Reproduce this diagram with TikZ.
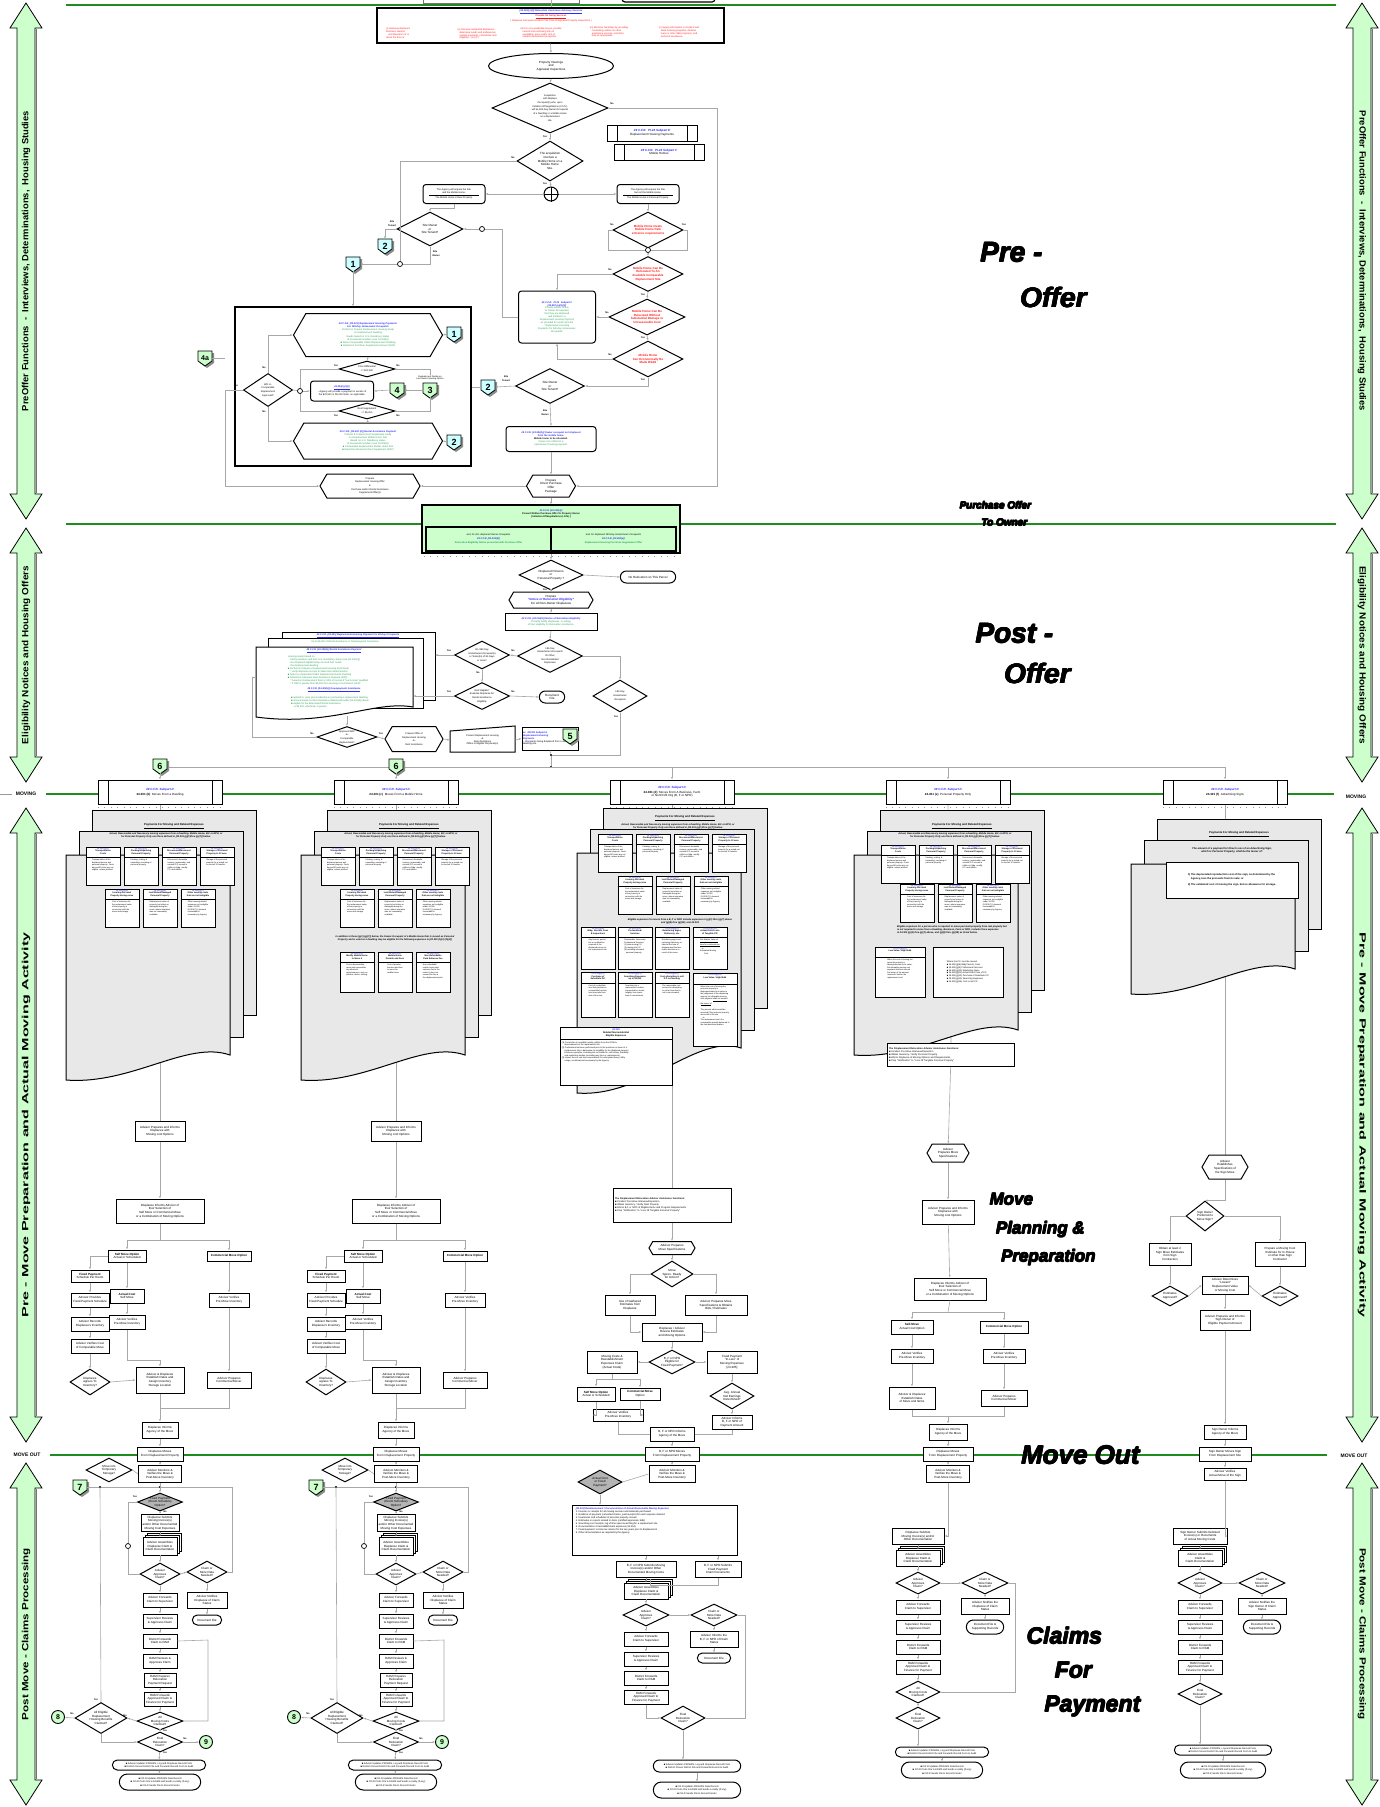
\documentclass[tikz,border=0pt]{standalone}
\usepackage{fontspec}
\setmainfont{Liberation Sans}
\usetikzlibrary{shapes.geometric,shapes.misc,shapes.symbols,arrows.meta,calc}
\pgfdeclarelayer{bgz}\pgfdeclarelayer{bgl}\pgfsetlayers{bgz,bgl,main}
\definecolor{lgreen}{HTML}{CCFFCC}
\definecolor{lcyan}{HTML}{CCFFFF}
\definecolor{lineg}{HTML}{1E8C1E}
\definecolor{cfr}{HTML}{2B2BFF}
\definecolor{tgr}{HTML}{2EA055}
\definecolor{tred}{HTML}{FF1A1A}
\definecolor{docg}{HTML}{E8E8E8}
\definecolor{cgray}{HTML}{A8A8A8}
\definecolor{dgray}{HTML}{B4B4B4}
\newcommand\fA{\fontsize{2.4}{2.9}\selectfont}
\newcommand\fB{\fontsize{3}{3.6}\selectfont}
\newcommand\fC{\fontsize{3.6}{4.3}\selectfont}
\newcommand\cfx[1]{\textcolor{cfr}{\bfseries\itshape #1}}
\newcommand\tgx[1]{\textcolor{tgr}{#1}}
\newcommand\trx[1]{\textcolor{tred}{\bfseries #1}}
\tikzset{
 base/.style={font=\fB, align=center, inner sep=0.6pt},
 box/.style={base, draw, line width=1pt, fill=white, rectangle},
 rbox/.style={box, rounded corners=3pt},
 dia/.style={draw, diamond, line width=1pt, fill=white, inner sep=0pt},
 hexa/.style={draw, signal, signal to=west and east, signal pointer angle=120, line width=1pt, fill=white, inner sep=0pt},
 conn/.style={draw=cgray, line width=0.6pt},
 ca/.style={conn, -{Latex[length=2.5pt,width=2pt]}},
 lbl/.style={font=\fontsize{2.4}{2.8}\selectfont\bfseries, inner sep=0.3pt},
 jn/.style={circle, draw, fill=white, inner sep=0pt, minimum size=5pt, line width=0.7pt},
 dt/.style={circle, fill=black, inner sep=0pt, minimum size=2.4pt},
 ppbox/.style={box, path picture={
   \draw[line width=0.9pt] ([xshift=10pt]path picture bounding box.north west) -- ([xshift=10pt]path picture bounding box.south west);
   \draw[line width=0.9pt] ([xshift=-10pt]path picture bounding box.north east) -- ([xshift=-10pt]path picture bounding box.south east);}},
 gl/.style={lineg, line width=1.8pt},
}
\newcommand\heavy[4]{\foreach \hx/\hy [count=\hi] in {0/0,0.8/0,0/0.8,0.8/0.8,0.4/0.4} {\node[inner sep=0pt, font=#3] (#1\hi) at ($(#2)+(\hx,\hy)$) {#4};}}
\newcommand\nbox[6][]{\node[box,minimum width=#4pt,minimum height=#5pt,#1] (#2) at (#3) {#6};}
\newcommand\nrbox[6][]{\node[rbox,minimum width=#4pt,minimum height=#5pt,#1] (#2) at (#3) {#6};}
\newcommand\ndia[6][]{\node[dia,minimum width=#4pt,minimum height=#5pt,#1] (#2) at (#3) {}; \node[base] (#2t) at (#3) {#6};}
\newcommand\nhex[6][]{\node[hexa,minimum width=#4pt,minimum height=#5pt,#1] (#2) at (#3) {}; \node[base] (#2t) at (#3) {#6};}
\newcommand\nell[6][]{\node[rounded rectangle,draw,line width=1pt,fill=white,minimum width=#4pt,minimum height=#5pt,#1] (#2) at (#3) {}; \node[base] (#2t) at (#3) {#6};}
\newcommand\smdoc[5]{%
 \node[draw,fill=white,line width=0.8pt,minimum width=#3pt,minimum height=#4pt] (#1b) at ($(#2)+(4,-4)$) {};
 \node[draw,fill=white,line width=0.8pt,minimum width=#3pt,minimum height=#4pt] (#1m) at ($(#2)+(2,-2)$) {};
 \node[base,draw,fill=white,line width=0.8pt,minimum width=#3pt,minimum height=#4pt] (#1) at (#2) {#5};}
\newcommand\bdg[4]{%
 \fill[black!45] ($(#2)+(-5,-5)$) -- ($(#2)+(9,-5)$) -- ($(#2)+(9,5)$) -- ($(#2)+(2,10)$) -- ($(#2)+(-5,5)$) -- cycle;
 \draw[fill=#3, line width=0.8pt] ($(#2)+(-7,-7)$) -- ($(#2)+(7,-7)$) -- ($(#2)+(7,3)$) -- ($(#2)+(0,8)$) -- ($(#2)+(-7,3)$) -- cycle;
 \node[inner sep=0pt, minimum size=14pt, font=\fontsize{9}{9}\selectfont\bfseries] (#1) at (#2) {#4};}
\newcommand\cbdg[3]{\node[circle, draw, line width=0.9pt, fill=lgreen, minimum size=13pt, inner sep=0pt, font=\fontsize{7}{7}\selectfont\bfseries] (#1) at (#2) {#3};}
\newcommand\sarrow[7]{%
 \draw[fill=lgreen, line width=0.8pt] (#1,#2) -- ({#1+16},{#2+25}) -- ({#1+9},{#2+25}) -- ({#1+9},{#3-25}) -- ({#1+16},{#3-25}) -- (#1,#3) -- ({#1-16},{#3-25}) -- ({#1-9},{#3-25}) -- ({#1-9},{#2+25}) -- ({#1-16},{#2+25}) -- cycle;
 \draw[black!55, line width=1.4pt] ({#1+10.2},{#2+26}) -- ({#1+10.2},{#3-26});
 \node[rotate=#5, inner sep=0] (#6) at (#1,{(#2+#3)/2}) {\resizebox{#7pt}{6.5pt}{\bfseries #4}};}
\newcommand\mdoc[4]{%
\begin{scope}[shift={(#1,#2)}]
 \draw[fill=docg, line width=1pt] (0,0) rectangle (164,#3);
 \draw[fill=docg, line width=1pt] (-13,21) rectangle (151,{#3+22});
 \draw[fill=docg, line width=1pt] (-26,45) -- (138,45) -- (138,{#3+40}) .. controls (95,{#3+25}) and (40,{#3+45+#4}) .. (-26,{#3+40+#4}) -- cycle;
\end{scope}}
\newcommand\ebox[5]{%
 \node[draw, fill=white, line width=0.8pt, minimum width=#2pt, minimum height=#3pt, inner sep=0pt] (eb) at (#1) {};
 \draw[line width=0.6pt] ($(eb.north west)+(0,11)$) -- ($(eb.north east)+(0,11)$);
 \node[font=\fontsize{2.2}{2.6}\selectfont, align=center, anchor=north, inner sep=0.6pt] (ebh) at (eb.north) {#4};
 \node[font=\fontsize{2}{2.5}\selectfont, align=left, anchor=north, inner sep=0.5pt] (ebb) at ($(eb.north)+(0,12)$) {#5};}
\newcommand\yn[2]{\node[lbl] (yn) at (#1) {#2};}
\newcommand\eh[2]{\textcolor{cfr}{#1}\\\textbf{#2}}
% column flow used for dwelling and mobile home columns
\newcommand\colflow{%
 \nbox{f1}{160,1131}{50}{20}{Advisor Prepares and Informs\\Displacee with\\Moving cost Options}
 \nbox{f2}{160,1211}{88}{24}{Displacee Informs Advisor of\\their Selection of\\Self Move or Commercial Move\\or a Combination of Moving Options}
 \nbox{f3}{127,1256}{38}{12}{\textbf{Self Move Option}\\Actual or Scheduled}
 \nbox{f4}{229,1256}{44}{10}{\textbf{Commercial Move Option}}
 \nbox{f5}{90,1276}{38}{12}{\textbf{Fixed Payment}\\Schedule Per Room}
 \nbox{f6}{127,1296}{34}{14}{\textbf{Actual Cost}\\Self Move}
 \nbox{f7}{90,1300}{38}{14}{Advisor Provides\\Fixed Payment Schedule}
 \nbox{f8}{127,1322}{36}{14}{Advisor Verifies\\Pre-Move Inventory}
 \nbox{f9}{229,1300}{40}{14}{Advisor Verifies\\Pre-Move Inventory}
 \nbox{f10}{90,1324}{38}{14}{Advisor Records\\Displacee's Inventory}
 \nbox{f11}{90,1346}{38}{14}{Advisor Verifies Cost\\of Comparable Move}
 \ndia{f12}{90,1382}{40}{26}{Displacee\\agrees To\\Inventory?}
 \nbox{f13}{160,1380}{48}{26}{Advisor \& Displacee\\Establish Dates and\\Assign Inventory\\Storage Location}
 \nbox{f14}{229,1380}{44}{16}{Advisor Prepares\\Commercial Mover}
 \nbox{f15}{160,1430}{36}{16}{Displacee Informs\\Agency of the Move}
 \nbox{f16}{160,1454}{46}{14}{Displacee Moves\\From Displacement Property}
 \nbox{f17}{160,1474}{43}{17}{Advisor Monitors \&\\Verifies the Move \&\\Post-Move Inventory}
 \ndia{f18}{109,1470}{46}{24}{Move into\\Temporary\\Storage?}
 \bdg{b7}{80,1487}{lgreen}{7}
 \ndia[fill=dgray]{f19}{160,1502}{45}{18}{Fixed Payment\\(Room Schedule)\\Option?}
 \nbox{f20}{160,1523}{38}{17}{Displacee Submits\\Moving Invoice(s)\\and/or Other Documented\\Moving Cost Expenses}
 \smdoc{f21}{160,1546}{34}{18}{Advisor Assembles\\Displacee Claim \&\\Claim Documentation}
 \node[jn] (j5) at (128,1546) {};
 \ndia{f22}{160,1574}{40}{22}{Advisor\\Approves\\Claim?}
 \ndia{f23}{207,1572}{40}{22}{Claim or\\More Data\\Needed?}
 \nbox{f24}{160,1600}{34}{14}{Advisor Forwards\\Claim to Supervisor}
 \nbox{f25}{207,1600}{40}{16}{Advisor Notifies\\Displacee of Claim\\Status}
 \nell{f26}{207,1620}{36}{10}{Document File}
 \nbox{f27}{160,1621}{34}{14}{Supervisor Reviews\\\& Approves Claim}
 \nbox{f28}{160,1641}{34}{14}{District Forwards\\Claim to RAM}
 \nbox{f29}{160,1661}{34}{14}{RAM Reviews \&\\Approves Claim}
 \nbox{f30}{160,1680}{32}{14}{RAM Prepares\\Relocation\\Payment Request}
 \nbox{f31}{160,1699}{32}{14}{RAM Forwards\\Approved Claim to\\Finance for Payment}
 \ndia{f32}{101,1718}{52}{31}{All Eligible\\Replacement\\Housing Benefits\\Claimed?}
 \ndia{f33}{160,1721}{46}{18}{All\\Moving Costs\\Claimed?}
 \cbdg{b8}{58,1717}{8}
 \ndia{f34}{160,1742}{45}{20}{Final\\Relocation\\Claim?}
 \cbdg{b9}{206,1742}{9}
 \nell{f35}{159,1765}{100}{10}{\fA ■ Advisor Updates PROARS, Log and Displacee Record Form\\\fA ■ District Closes District File and Forwards Record Form to Audit}
 \nell{f36}{160,1782}{88}{16}{\fA ■ CO-R Updates PROARS Data Record\\\fA ■ CO-R Posts File to EDMS and Sends Locality (if any)\\\fA ■ CO-R Sends File to Record Center}
 \draw[ca] (f1) -- (f2);
 \draw[conn] (f2.south) -- (160,1240); \draw[conn] (127,1240) -- (229,1240);
 \draw[ca] (127,1240) -- (f3.north); \draw[ca] (229,1240) -- (f4.north);
 \draw[ca] (f3.west) -| (f5.north); \draw[ca] (f3) -- (f6); \draw[ca] (f6) -- (f8);
 \draw[ca] (f5) -- (f7); \draw[ca] (f7) -- (f10); \draw[ca] (f10) -- (f11); \draw[ca] (f11) -- (f12);
 \draw[ca] (f12.east) -- (f13.west); \draw[ca] (f8.south) |- ($(f13.north)+(0,-6)$) -- (f13.north);
 \draw[ca] (f4) -- (f9); \draw[ca] (f9) -- (f14);
 \draw[conn] (f14.south) |- (160,1408); \draw[ca] (f13) -- (f15);
 \draw[ca] (f15) -- (f16); \draw[ca] (f16) -- (f17); \draw[conn] (f18.east) -- (f17.west);
 \draw[conn] (b7.east) -- (232,1487); \node[dt] (d7a) at (100,1487) {}; \node[dt] (d7b) at (160,1487) {};
 \draw[ca] (f17.south) -- (f19.north);
 \draw[conn] (f19.west) -| (j5); \draw[ca] (f19) -- (f20); \draw[ca] (f20) -- (f21);
 \draw[conn] (j5) -- (128,1574) -- (f22.west); \draw[ca] (f21) -- (f22);
 \draw[ca] (f22.east) -- (f23.west); \draw[conn] (232,1487) -- (232,1572) -- (f23.east);
 \draw[ca] (f23) -- (f25); \draw[ca] (f25) -- (f26);
 \draw[ca] (f22) -- (f24); \draw[ca] (f24) -- (f27); \draw[ca] (f27) -- (f28); \draw[ca] (f28) -- (f29); \draw[ca] (f29) -- (f30); \draw[ca] (f30) -- (f31); \draw[ca] (f31) -- (f33);
 \draw[conn] (100,1487) -- (f32.north); \draw[ca] (f33.west) -- (f32.east); \draw[ca] (f32.west) -- (b8);
 \draw[conn] (f33.east) -- (208,1721) -- (208,1640) -- (f28.east);
 \draw[ca] (f32.south) |- (f34.west); \draw[ca] (f33) -- (f34); \draw[ca] (f34.east) -- (b9); \draw[ca] (f34) -- (f35); \draw[ca] (f35) -- (f36);
 \yn{135,1497}{Yes} \yn{165,1512}{No} \yn{125,1716}{No} \yn{72,1714}{No} \yn{165,1731}{Yes} \yn{185,1739}{No} \yn{165,1753}{Yes} \yn{96,1700}{Yes}
}
\begin{document}
\begin{tikzpicture}[x=1pt,y=-1pt]
\useasboundingbox (0,0) rectangle (1380,1807);
\begin{pgfonlayer}{bgz}\fill[white] (0,0) rectangle (1380,1807);\end{pgfonlayer}
% ---------------- green section lines
\draw[gl] (66,5) -- (1336,5);
\draw[gl] (66,524) -- (1336,524);
\draw[gl] (46,794) -- (1334,794);
\draw[gl] (50,1455) -- (1327,1455);
\draw[black!40, line width=0.5pt] (0,794) -- (12,794);
\node[font=\fontsize{5}{5}\selectfont\bfseries, inner sep=0] (mvl) at (26,794) {MOVING};
\node[font=\fontsize{5}{5}\selectfont\bfseries, inner sep=0] (mvr) at (1356,797) {MOVING};
\node[font=\fontsize{5}{5}\selectfont\bfseries, inner sep=0] (mol) at (27,1455) {MOVE OUT};
\node[font=\fontsize{5}{5}\selectfont\bfseries, inner sep=0] (mor) at (1354,1456) {MOVE OUT};
% ---------------- side arrows
\sarrow{26}{3}{519}{PreOffer Functions\ \ -\ \ Interviews, Determinations,\ \ Housing Studies}{90}{sal1}{300}
\sarrow{26}{528}{782}{Eligibility Notices and Housing Offers}{90}{sal2}{178}
\sarrow{26}{808}{1442}{Pre - Move Preparation and Actual Moving Activity}{90}{sal3}{385}
\sarrow{26}{1463}{1805}{Post Move - Claims Processing}{90}{sal4}{172}
\sarrow{1362}{3}{519}{PreOffer Functions\ \ -\ \ Interviews, Determinations,\ \ Housing Studies}{-90}{sar1}{300}
\sarrow{1362}{528}{782}{Eligibility Notices and Housing Offers}{-90}{sar2}{178}
\sarrow{1362}{808}{1442}{Pre - Move Preparation and Actual Moving Activity}{-90}{sar3}{385}
\sarrow{1362}{1463}{1805}{Post Move - Claims Processing}{-90}{sar4}{172}
% ---------------- big labels (heavy)
\heavy{bl1}{1011,252}{\fontsize{28}{30}\selectfont\bfseries\itshape}{Pre -}
\heavy{bl2}{1053,297}{\fontsize{28}{30}\selectfont\bfseries\itshape}{Offer}
\heavy{bl3}{1014,633}{\fontsize{28}{30}\selectfont\bfseries\itshape}{Post -}
\heavy{bl4}{1037,673}{\fontsize{28}{30}\selectfont\bfseries\itshape}{Offer}
\heavy{bl5}{995,505}{\fontsize{10}{11}\selectfont\bfseries\itshape}{Purchase Offer}
\heavy{bl6}{1004,522}{\fontsize{10}{11}\selectfont\bfseries\itshape}{To Owner}
\heavy{bl7}{1011,1199}{\fontsize{17}{19}\selectfont\bfseries\itshape}{Move}
\heavy{bl8}{1040,1229}{\fontsize{17}{19}\selectfont\bfseries\itshape}{Planning \&}
\heavy{bl9}{1048,1257}{\fontsize{17}{19}\selectfont\bfseries\itshape}{Preparation}
\heavy{bl10}{1080,1455}{\fontsize{26}{28}\selectfont\bfseries\itshape}{Move Out}
\heavy{bl11}{1064,1635}{\fontsize{23}{25}\selectfont\bfseries\itshape}{Claims}
\heavy{bl12}{1073,1670}{\fontsize{23}{25}\selectfont\bfseries\itshape}{For}
\heavy{bl13}{1092,1706}{\fontsize{23}{25}\selectfont\bfseries\itshape}{Payment}
% ---------------- top advisory box
\draw[black!55, line width=0.8pt] (423,-5) rectangle (579,3);
\draw[line width=1.2pt, rounded corners=3pt] (622,-6) rectangle (715,2);
\draw[conn] (551,0) -- (551,8);
\node[draw, line width=1.2pt, fill=white, minimum width=347pt, minimum height=35pt, inner sep=0] (tb) at (550.5,25.5) {};
\node[base, font=\fA] (tb1) at (551,12) {\cfx{\underline{[24.205(c)(2)] Relocation Assistance Advisory Services}}};
\node[base, font=\fA\bfseries, text=tred] (tb2) at (551,16.5) {\underline{Provide On Going Services}};
\node[base, font=\fA, text=tred] (tb3) at (551,21) {( Displacee Interviews At About The Time of Appraisal Property Inspections )};
\node[base, font=\fA, text=tred, align=left] (tc1) at (398,33) {(i) Interview displaced\\Business Owners\\\ \ \ and Operators at or\\about the time of};
\node[base, font=\fA, text=tred, align=left] (tc2) at (477,34) {(ii) Interview residential displacees,\\\ \ \ determine needs and preferences,\\\ \ \ explain payments, procedures and\\\ \ \ eligibility -- (iv)-(F)};
\node[base, font=\fA, text=tred, align=left] (tc3) at (541,33) {(iii) For non-residential moves, provide\\\ \ \ current and continuing info on\\\ \ \ availability, price and/or rent of\\\ \ \ suitable replacement properties.};
\node[base, font=\fA, text=tred, align=left] (tc4) at (609,32) {(iv) Minimize hardships by providing\\\ \ \ counseling, advice on other\\\ \ \ assistance sources, and other\\\ \ \ help as appropriate.};
\node[base, font=\fA, text=tred, align=left] (tc5) at (679,32) {(v) Supply information on Federal and\\\ \ \ State housing programs, disaster\\\ \ \ loans or other SBA programs, and\\\ \ \ technical assistance.};
% ---------------- pre-offer flow
\node[ellipse, draw, line width=1pt, fill=white, minimum width=125pt, minimum height=25pt] (e1) at (551,66) {};
\node[base] (e1t) at (551,66) {Property Viewings\\and\\Appraisal Inspections};
\ndia{d1}{550,108}{116}{50}{\fA Acquisition\\\fA with displace\\\fA Occupant(s) who, upon\\\fA Initiation Of Negotiations (I.O.N.)\\\fA will be 180-Day Owner-Occupants\\\fA of a Dwelling or a Mobile Home\\\fA on a displacement\\\fA site.}
\node[ppbox, minimum width=90pt, minimum height=16pt] (s1) at (652,133) {\cfx{49 C.F.R.\ \ Pt.24 Subpart E}\\Replacement Housing Payments};
\node[ppbox, minimum width=90pt, minimum height=16pt] (s2) at (659,152) {\cfx{49 C.F.R.\ \ Pt.24 Subpart F}\\Mobile Homes};
\ndia{d2}{550,161}{66}{40}{The acquisition\\involves a\\Mobile Home on a\\Mobile Home\\Site.}
\node[circle, draw, line width=1pt, fill=white, minimum size=14pt, inner sep=0pt] (cp) at (551,194) {};
\draw[line width=1pt] (cp.north) -- (cp.south) (cp.west) -- (cp.east);
\nrbox[font=\fA]{lb}{454,194}{62}{19}{The Agency will acquire the Site\\and the Mobile Home.\\[-1pt]\rule{50pt}{0.3pt}\\The Mobile Home is Real Property.}
\nrbox[font=\fA]{rb}{648,194}{62}{19}{The Agency will acquire the Site\\but not the Mobile Home.\\[-1pt]\rule{50pt}{0.3pt}\\The Mobile Home is Personal Property.}
\ndia{r1}{648,230}{70}{36}{\trx{Mobile Home meets}\\\trx{Mobile Home Park}\\\trx{entrance requirements}}
\node[jn] (j1) at (648,250) {};
\ndia{r2}{648,274}{70}{35}{\trx{Mobile Home Can Be}\\\trx{Relocated To An}\\\trx{Available Comparable}\\\trx{Replacement Site}}
\ndia{r3}{647,317}{76}{36}{\trx{Mobile Home Can Be}\\\trx{Relocated Without}\\\trx{Substantial Damage or}\\\trx{Unreasonable Cost}}
\ndia{r4}{648,359}{70}{36}{\trx{Mobile Home}\\\trx{Can Economically Be}\\\trx{Made DS\&S}}
\nrbox[text width=74pt, font=\fA]{fb}{557,317}{77}{52}{\cfx{49 C.F.R.\ \ Pt.24\ \ Subpart F\\{}[24.502 (a)(1)(ii)]}\\\tgx{Provide written Notice\\to Owner-Occupant(s)\\that they are displaced\\and entitled to a\\Replacement Housing Payment\\as provided for under §24.401\\"Replacement Housing\\Payments for 180-day Homeowner-\\Occupants"}}
\ndia{ld}{430,229}{66}{34}{Site Owner\\or\\Site Tenant?}
\node[jn] (j3) at (482,229) {};
\node[jn] (j4) at (400,264) {};
\bdg{b2a}{385,246}{lcyan}{2}
\bdg{b1a}{353,264}{lcyan}{1}
\ndia{d3}{550,386}{69}{35}{Site Owner\\or\\Site Tenant?}
\bdg{b2b}{488,387}{lcyan}{2}
\nrbox[text width=86pt, font=\fA]{gb}{551,439}{90}{25}{\cfx{49 C.F.R. [24.502(b)] Owner occupant not displaced\\from the mobile home.}\\\textbf{Mobile home to be relocated.}\\\tgx{Owner not entitled to a\\replacement housing payment.}}
\nhex{hx}{551,486}{49}{22}{Prepare\\Direct Purchase\\Offer\\Package}
% big box
\node[draw, line width=1.2pt, minimum width=236pt, minimum height=159pt, inner sep=0pt] (bb) at (353,386.5) {};
\nhex{hex1}{368,335}{149}{43}{}
\node[base, text width=110pt, font=\fA] (hex1c) at (368,335) {\cfx{49 C.F.R. [24.401] Replacement Housing Payments\\For 180-Day Homeowner-Occupants}\\\tgx{Perform \& Prepare Replacement Housing Study\\on Displacement Dwelling\\[1pt]Needs based on U.S. Residency Status\\of household members (see 24.208(c))\\■ Select Comparable DS\&S Replacement Dwelling\\■ Determine Purchase Supplement Amount (RHP)}};
\bdg{b1b}{454,334}{lcyan}{1}
\ndia{pd}{367,369}{56}{16}{\fA Price Differential\\\fA <= \$22,500}
\ndia{wa}{268,390}{49}{33}{\fA Will -A-\\\fA Comparable\\\fA Replacement\\\fA Approved?}
\node[jn] (j2) at (300,391) {};
\nrbox[text width=60pt, font=\fA]{kb}{342,391}{63}{20}{\cfx{\underline{24.404(c)(1)(i)}}\\...Agency will provide a payment in excess of the \$22,500 or \$5,250 limits, as applicable.}
\bdg{b4}{397,390}{lgreen}{4}
\bdg{b3}{430,390}{lgreen}{3}
\node[base, font=\fontsize{2.2}{2.6}\selectfont] (ev) at (430,378) {Evaluate and Decide on\\Last Resort Housing Option};
\ndia{rd}{367,411}{56}{16}{\fA Rent Supplement\\\fA <= \$5,250}
\nhex{hex2}{368,441}{149}{36}{}
\node[base, text width=110pt, font=\fA] (hex2c) at (368,441) {\cfx{49 C.F.R. [24.402 (b)] Rental Assistance Payment}\\\tgx{Perform \& Prepare Rent Supplement Study\\on Displacement Mobile Home Site\\Based on U.S. Residency status\\of household members (see 24.208(c))\\■ Comparable Replacement Mobile Home Site\\■ Determine Maximum Rent Supplement (RAP)}};
\bdg{b2c}{454,442}{lcyan}{2}
\nhex{hl}{370,486}{100}{24}{\fA Prepare\\\fA Replacement Housing Offer\\\fA \&\\\fA Purchase and/or Rental Assistance\\\fA Supplement Offer(s)}
\bdg{b4a}{205,358}{lgreen}{\fontsize{7}{7}\selectfont 4a}
% pre-offer connectors
\draw[ca] (tb.south) -- (e1.north);
\draw[ca] (e1.south) -- (d1.north);
\draw[ca] (d1.east) -- (717,108) -- (717,486) -- (hx.east); \yn{612,104}{No}
\draw[ca] (d1.south) -- (d2.north); \yn{545,137}{Yes}
\draw[ca] (d2.south) -- (cp.north); \yn{545,184}{Yes}
\draw[conn] (d2.west) -- (400,161) -- (j4); \yn{513,158}{No}
\draw[ca] (cp.west) -- (lb.east); \draw[ca] (cp.east) -- (rb.west);
\draw[ca] (lb.south) -- ++(0,4) -| (ld.north);
\draw[ca] (rb.south) -- (r1.north);
\draw[conn] (r1.west) -- (608,230) -- (608,250) -- (j1); \draw[conn] (r1.east) -- (687,230) -- (687,250) -- (j1);
\yn{612,225}{No} \yn{684,225}{Yes}
\draw[ca] (j1) -- (r2.north);
\draw[ca] (r2.west) -| (fb.north); \yn{610,270}{No}
\draw[ca] (r2.south) -- (r3.north); \yn{643,295}{Yes}
\draw[ca] (r3.west) -- (fb.east); \yn{607,313}{No}
\draw[ca] (r3.south) -- (r4.north); \yn{643,338}{Yes}
\draw[ca] (r4.west) -| (fb.south); \yn{610,355}{No}
\draw[ca] (r4.south) |- (d3.east); \yn{643,380}{Yes}
\draw[conn] (fb.west) -- (502,317) -- (502,229) -- (j3); \draw[ca] (j3) -- (ld.east);
\draw[ca] (ld.west) -| (b2a.north); \yn{392,222}{Site}\yn{392,225.5}{Tenant}
\draw[conn] (ld.south) -- (430,264) -- (j4); \yn{435,252}{Site}\yn{436,255.5}{Owner}
\draw[ca] (j4) -- (b1a.east);
\draw[ca] (b1a.south) -- (bb.north -| b1a);
\draw[ca] (d3.west) -- (b2b.east); \yn{506,377}{Site}\yn{506,380.5}{Tenant}
\draw[conn] (bb.east |- b2b) -- (b2b.west);
\draw[ca] (d3.south) -- (gb.north); \yn{545,411}{Site}\yn{545,414.5}{Owner}
\draw[ca] (gb.south) -- (hx.north);
\draw[ca] (hx.west) -- (hl.east);
\draw[ca] (wa.north) |- (hex1.west); \yn{264,368}{No}
\draw[ca] (wa.south) |- (hex2.west); \yn{264,412}{No}
\draw[conn] (wa.east) -- (j2); \draw[ca] (j2) -- (kb.west);
\draw[ca] (hex1.east) -- (b1b.west);
\draw[ca] (hex1.south) -- (pd.north);
\draw[conn] (pd.west) -| (j2); \yn{336,366}{Yes}
\draw[conn] (pd.east) -- (430,369) -- (430,375); \yn{398,366}{No}
\draw[conn] (rd.west) -| (j2); \yn{336,416}{Yes}
\draw[conn] (rd.east) -| (b3.south); \yn{398,416}{No}
\draw[ca] (b3.west) -- (b4.east); \draw[ca] (b4.west) -- (kb.east);
\draw[ca] (hex2.north) -- (rd.south);
\draw[ca] (hex2.east) -- (b2c.west);
\draw[conn] (wa.west) -- (225,390) -- (225,486); \draw[ca] (225,486) -- (hl.west); \yn{236,386}{Yes}
\draw[conn] (b4a.east) -- (225,358);
% ---------------- purchase offer box
\node[draw, line width=1.2pt, fill=lgreen, minimum width=258pt, minimum height=48pt, inner sep=0pt] (pb) at (551,529) {};
\node[base, font=\fA] (pbt) at (551,514) {\cfx{49 C.F.R. [24.102(d)]}\\\textbf{Present Written Purchase Offer To Property Owner}\\\textbf{( Initiation Of Negotiations (I.O.N.) )}};
\node[draw, line width=1.2pt, minimum width=125pt, minimum height=24pt, inner sep=0pt] (pb1) at (488.5,539) {};
\node[draw, line width=1.2pt, minimum width=125pt, minimum height=24pt, inner sep=0pt] (pb2) at (613.5,539) {};
\node[base, font=\fA] (pb1t) at (488.5,539) {\textit{and, for ALL displaced Owner-Occupants}\\[1pt]\cfx{49 C.F.R. [24.203(b)]}\\[1pt]\textcolor{tgr}{\bfseries Relocation Eligibility Notice presented with Purchase Offer}};
\node[base, font=\fA] (pb2t) at (613.5,539) {\textit{and, for displaced 180-Day HomeOwner-Occupants}\\[1pt]\cfx{49 C.F.R. [24.204(a)]}\\[1pt]\textcolor{tgr}{\bfseries Replacement Housing Purchase Supplement Offer}};
\draw[ca] (hx.south) -- (pb.north);
\draw[black!40, line width=0.4pt, dash pattern=on 0.4pt off 6pt] (424,556) -- (680,556);
% ---------------- post offer
\ndia{dp}{551,575}{64}{30}{Displaced Persons\\or\\Personal Property ?}
\nell{nrl}{648,577}{62}{12}{No Relocation on This Parcel}
\nhex{nr}{551,600}{84}{16}{Prepare\\\cfx{"Notice of Relocation Eligibility"}\\For All Non-Owner Displacees}
\nbox[text width=88pt, font=\fA]{ne}{551,622}{92}{17}{\cfx{49 C.F.R. [24.203(b)] Notice of Relocation Eligibility}\\\tgx{Promptly Notify displacees, in writing,\\of their eligibility for Relocation Assistance.}}
\ndia{dh1}{550,656}{65}{33}{\fA 180-Day\\\fA HomeOwner-Occupants\\\fA Or Other\\\fA Non-Residential\\\fA Displacees}
\ndia{d90}{482,655}{55}{28}{\fA 90-/180-Day\\\fA HomeOwner-Occupant(s)\\\fA or Tenant(s) of 90-Days\\\fA or more?}
\ndia{rap}{482,696}{55}{27}{\fA RAP Eligible?\\\fA Evaluate Displacee for\\\fA Rental Assistance\\\fA Eligibility}
\nell{df}{552,697}{32}{12}{Document\\File}
\ndia{dh2}{620,696}{54}{32}{\fA 180-Day\\\fA HomeOwner\\\fA Occupants}
\draw[fill=white, line width=1pt] (282,632) rectangle (435,700);
\draw[fill=white, line width=1pt] (268,638) rectangle (423,708);
\draw[fill=white, line width=1pt] (256,647) -- (413,647) -- (413,707) .. controls (375,700) and (330,727) .. (256,717) -- cycle;
\node[base, font=\fontsize{2.4}{2.8}\selectfont] (ds1) at (358,635.5) {\cfx{\underline{49 C.F.R. [24.401] Replacement Housing Payment For 90-Day Occupants}}};
\node[base, font=\fontsize{2.4}{2.8}\selectfont] (ds2) at (345,642) {\tgx{Up to \$5,250 of Rental Assistance or Downpayment Assistance}};
\node[base, font=\fontsize{2.4}{2.8}\selectfont] (ds3) at (334,651) {\cfx{\underline{49 C.F.R. [24.402(b)] Rental Assistance Payment}}};
\node[base, font=\fontsize{2.4}{3.05}\selectfont, align=left, text=tgr] (ds4) at (328,670.5) {Housing needs based on:\\\ \ - family members and their U.S. Residency status (see [24.208(c)])\\\ \ - the displaced eligible family unit and their needs\\\ \ - the displacement dwelling\\■ Perform \& Prepare a Replacement Housing Rent Study\\\ \ \ \ * verify displacee income for Base Rent determination\\■ Select a comparable DS\&S Replacement Rental Dwelling\\■ Determine maximum Rent Assistance Payment (RAP)\\\ \ \ \ * based on Displacement Rent or 30\% of income if "low income" qualified\\\ \ \ \ * if RAP is greater than \$5,250 then Housing of Last Resort (HLR)};
\node[base, font=\fontsize{2.4}{2.8}\selectfont] (ds5) at (334,690) {\cfx{\underline{49 C.F.R. [24.402(c)] Downpayment Assistance}}};
\node[base, font=\fontsize{2.4}{3.05}\selectfont, align=left, text=tgr] (ds6) at (330,702) {■ applied to: price plus incidentals in purchasing a replacement dwelling\\■ amount based on Rent Assistance determined under [24.402(b)] above\\■ eligible for the determined Rental Assistance,\\\ \ \ \ or \$5,250, whichever is greater};
\ndia{ar}{347,737}{60}{21}{\fA Approved RAP\\\fA -\&-\\\fA Comparable\\\fA Replacement?}
\nhex{po}{414,739}{58}{25}{\fA Prepare Offer of\\\fA Replacement Housing\\\fA -\&-\\\fA Rent Assistance}
\draw[fill=white, line width=1pt] (450,731) -- (515,726) -- (515,752) -- (450,752) -- cycle;
\node[base, font=\fA, minimum width=65pt, minimum height=24pt] (pr) at (482.5,740) {Present Replacement Housing\\-\&-\\Rent Assistance\\Offers to Eligible Displacee(s)};
\nbox[text width=54pt, font=\fA, align=left]{e5}{550,738.5}{56}{23}{ex: \cfx{49CFR Subpart E\\Replacement Housing\\Payments}\\...Occupants being displaced from a dwelling or dwelling site.}
\bdg{b5}{570,736}{lgreen}{5}
\node[dt] (dj1) at (551,755) {};
\node[dt] (dj2) at (551,767) {};
\draw[ca] (pb.south) -- (dp.north);
\draw[ca] (dp.east) -- (nrl.west);
\draw[ca] (dp.south) -- (nr.north); \yn{545,590}{Yes}
\draw[ca] (nr.south) -- (ne.north);
\draw[ca] (ne.south) -- (dh1.north);
\draw[ca] (dh1.west) -- (d90.east); \yn{513,651}{No}
\draw[ca] (dh1.east) -| (dh2.north);
\draw[ca] (d90.west) -- (435,655); \yn{449,651}{Yes}
\draw[ca] (d90.south) -- (rap.north); \yn{478,673}{No}
\draw[ca] (rap.east) -- (df.west); \yn{513,692}{No}
\draw[ca] (rap.west) -- (413,696); \yn{449,692}{Yes}
\draw[ca] (347,716) -- (ar.north);
\draw[conn] (ar.west) -- (252,737) -- (252,677) -- (256,677); \yn{312,734}{No}
\draw[ca] (ar.east) -- (po.west); \yn{381,734}{Yes}
\draw[ca] (po.east) -- (pr.west);
\draw[ca] (pr.east) -- (e5.west);
\draw[conn] (e5.south) -- (dj1);
\draw[conn] (dh2.south) |- (dj1); \yn{616,717}{Yes}
\draw[conn] (dj1) -- (dj2);
\draw[conn] (160,767) -- (1225,767);
% ---------------- column headers
\bdg{b6a}{160,766}{lgreen}{6}
\bdg{b6b}{396,766}{lgreen}{6}
\node[ppbox, minimum width=124pt, minimum height=24pt] (hd1) at (160,792) {\cfx{49 C.F.R. Subpart D}\\[1pt]\textbf{24.301 (b)}\ \ Moves From a Dwelling};
\node[ppbox, minimum width=124pt, minimum height=24pt] (hd2) at (396,792) {\cfx{49 C.F.R. Subpart D}\\[1pt]\textbf{24.301 (c)}\ \ Moves From a Mobile Home};
\node[ppbox, minimum width=124pt, minimum height=24pt] (hd3) at (672,792) {\cfx{49 C.F.R. Subpart D}\\[1pt]\textbf{24.301 (d)}\ \ Moves From A Business, Farm\\or NonProfit Org (B, F or NPO)};
\node[ppbox, minimum width=124pt, minimum height=24pt] (hd4) at (948,792) {\cfx{49 C.F.R. Subpart D}\\[1pt]\textbf{24.301 (e)}\ \ Personal Property Only};
\node[ppbox, minimum width=124pt, minimum height=24pt] (hd5) at (1225,792) {\cfx{49 C.F.R. Subpart D}\\[1pt]\textbf{24.301 (f)}\ \ Advertising Signs};
\draw[ca] (b6a.south) -- (hd1.north); \draw[ca] (b6b.south) -- (hd2.north);
\draw[ca] (672,767) -- (hd3.north); \draw[ca] (948,767) -- (hd4.north); \draw[ca] (1225,767) -- (hd5.north);
\foreach \cx in {160,396,672,948,1225} \draw[black!40, line width=0.4pt, dash pattern=on 0.4pt off 6pt] ({\cx-62},807) -- ({\cx+62},807);
% ---------------- payment documents
\mdoc{92}{810}{205}{25}
\mdoc{327}{810}{205}{25}
\mdoc{603}{808}{200}{45}
\mdoc{880}{810}{180}{25}
\mdoc{1157}{819}{110}{25}
% col1 doc content
\node[base, font=\fontsize{2.8}{3.3}\selectfont\bfseries] (p1t) at (174,826) {\underline{Payments For Moving and Related Expenses}};
\node[base, font=\fontsize{2.4}{2.9}\selectfont\bfseries\itshape] (p1s) at (166,835) {Actual, Reasonable and Necessary moving expenses from a Dwelling, Mobile Home, B,F or NPO, or\\for Personal Property Only are those defined in [24.301 (g)(1)thru (g)(7)] below.};
\newcommand\rowA[2]{%
 \ebox{#1,#2}{34}{38}{\eh{24.301(g)(1)}{Transportation}\\\textbf{Costs}}{Transportation of the\\displaced person and\\personal property. Costs\\beyond 50 miles are not\\eligible, unless justified.}
 \ebox{\the\numexpr#1+38\relax,#2}{34}{38}{\eh{24.301(g)(2)}{Packing/Unpacking}\\\textbf{Personal Property}}{Packing, crating, \&\\unpacking, uncrating of\\personal property.}
 \ebox{\the\numexpr#1+76\relax,#2}{34}{38}{\eh{24.301(g)(3)}{Disconnect/Reconnect}\\\textbf{Personal Property}}{Disconnect, dismantle,\\remove, reassemble, and\\reinstall P.P. moved to\\utilities in bldg. modify\\P.P. and utilities}
 \ebox{\the\numexpr#1+114\relax,#2}{34}{38}{\eh{24.301(g)(4)}{Storage of Personal}\\\textbf{Property to 12 mos.}}{Storage of the personal\\property for a period not\\to exceed 12 months.}}
\newcommand\rowB[2]{%
 \ebox{#1,#2}{34}{38}{\eh{24.301(g)(5)}{Insuring Personal}\\\textbf{Property during move}}{Cost of insurance for\\the replacement value\\of the property in\\connection with the\\move and storage.}
 \ebox{\the\numexpr#1+38\relax,#2}{34}{38}{\eh{24.301(g)(6)}{Lost/Stolen/Damaged}\\\textbf{Personal Property}}{Replacement value of\\property lost stolen or\\damaged during the\\move, where insurance\\was not reasonably\\available.}
 \ebox{\the\numexpr#1+76\relax,#2}{34}{38}{\eh{24.301(g)(7)}{Other moving costs}\\\textbf{that are not ineligible}}{Other moving related\\expenses not ineligible\\under 24.305\\{}[24.301(7)], deemed\\reasonable \&\\necessary by Agency}}
\rowA{103}{866}
\rowB{122}{908}
% col2 doc content
\node[base, font=\fontsize{2.8}{3.3}\selectfont\bfseries] (p2t) at (409,826) {\underline{Payments For Moving and Related Expenses}};
\node[base, font=\fontsize{2.4}{2.9}\selectfont\bfseries\itshape] (p2s) at (401,835) {Actual, Reasonable and Necessary moving expenses from a Dwelling, Mobile Home, B,F or NPO, or\\for Personal Property Only are those defined in [24.301 (g)(1)thru (g)(7)] below.};
\rowA{338}{866}
\rowB{357}{908}
\node[base, font=\fontsize{2.4}{2.9}\selectfont\bfseries\itshape] (p2x) at (395,938) {In addition to these [g(1)-(g)(7)] below, the Owner-Occupant of a Mobile Home that is moved as Personal\\Property and is used as a dwelling may be eligible for the following expenses in [24.301 (h)(1)-(h)(3)]};
\ebox{357,972}{34}{40}{\eh{24.301(h)(1)}{Modify Mobile Home}\\\textbf{to Move it}}{Cost to disassemble,\\move and reassemble\\any attached\\appurtenances, such as\\porches, decks, skirting.}
\ebox{395,972}{34}{40}{\eh{24.301(h)(2)}{Mobile Home}\\\textbf{Permits and Fees}}{Cost of permits,\\licenses and fees\\to move the\\mobile home.}
\ebox{433,972}{34}{40}{\eh{24.301(h)(3)}{Non-Refundable}\\\textbf{Park Entrance Fee}}{Non-refundable\\mobile home park\\entrance fee to the\\extent it does not\\exceed the fee at\\the displacement park.}
% col3 doc content
\node[base, font=\fontsize{2.8}{3.3}\selectfont\bfseries] (p3t) at (685,818) {\underline{Payments For Moving and Related Expenses}};
\node[base, font=\fontsize{2.4}{2.9}\selectfont\bfseries\itshape] (p3s) at (678,826) {Actual, Reasonable and Necessary moving expenses from a Dwelling, Mobile Home, B,F or NPO, or\\for Personal Property Only are those defined in [24.301 (g)(1)thru (g)(7)] below.};
\rowA{615}{853}
\rowB{635}{895}
\node[base, font=\fontsize{2.4}{2.9}\selectfont\bfseries\itshape] (p3x) at (680,921) {Eligible expenses for moves from a B, F or NPO include expenses in (g)(1) thru (g)(7) above\\and (g)(8) thru (g)(18), and 24.303};
\ebox{598,948}{34}{42}{\eh{24.301(g)(8)}{Bldg. Permits, Fees}\\\textbf{\& Inspections}}{Any license, permit,\\fee or certification\\required of the\\displaced person at\\the replacement site.}
\ebox{635,948}{34}{42}{\eh{24.301(g)(9)}{Professional}\\\textbf{Services}}{Reasonable, Necessary\\Professional Services:\\(1) plan moving P.P.\\(2) moving the P.P.\\(3) installing relocated\\\ \ \ personal property}
\ebox{672,948}{34}{42}{\eh{24.301(g)(10)}{Relettering Signs,}\\\textbf{Stationery, etc.}}{Relettering signs and\\replacing stationery on\\hand at the time of\\displacement that are\\made obsolete as a\\result of the move.}
\ebox{710,948}{34}{42}{\eh{24.301(g)(11)}{Actual Direct Loss}\\\textbf{of Tangible P.P.}}{\underline{Fair Market Value of}\\\underline{item for continued use}\\\ \ \ or\\Estimated Moving\\\ \ \ \ \ \ \ Cost}
\ebox{598,995}{34}{45}{\eh{24.301(g)(12)}{Purchase of}\\\textbf{Substitute P.P.}}{Cost of a substitute\\item that performs a\\comparable function,\\less proceeds from\\sale of the item.}
\ebox{635,995}{34}{45}{\eh{24.301(g)(13)}{Searching Expenses}\\\textbf{up to \$2,500}}{Searching for a\\replacement location:\\transportation, meals,\\lodging, time spent,\\fees \& commissions.}
\ebox{672,995}{34}{45}{\eh{24.301(g)(14)}{Cost attempting to sell}\\\textbf{P.P. not moving}}{The reasonable cost\\incurred in attempting\\to sell an item that is\\not to be relocated.}
\ebox{715,1010}{44}{73}{\eh{24.301(g)(18)}{Low Value / High Bulk}}{When the cost of moving the\\personal property is\\disproportionate to its value in\\the judgement of the displacing\\agency, the allowable moving\\cost payment \underline{shall not exceed}\\\underline{the lesser of}:\\[2pt]The amount which would be\\received if the personal property\\were sold at the site\\\ \ \ \ or,\\The replacement cost of a\\comparable quantity delivered to\\the new business location.}
\node[draw, fill=white, line width=1pt, minimum width=112pt, minimum height=58pt] (r303) at (616,1056) {};
\node[base, font=\fontsize{2.4}{2.9}\selectfont, anchor=north] (r303t) at (616,1028) {\cfx{24.303}\\\textbf{Related Nonresidential}\\\textbf{Eligible Expenses}};
\draw[line width=0.6pt] (560,1039) -- (672,1039);
\node[base, font=\fontsize{2.1}{2.6}\selectfont, align=left, anchor=north west] (r303b) at (561,1041) {(1) Connection to available nearby utilities from the ROW to\\\ \ \ \ \ improvements at the replacement site.\\(2) Professional services performed prior to the purchase or lease of a\\\ \ \ \ \ replacement site to determine its suitability for the displaced person's\\\ \ \ \ \ business operation, including but not limited to, soil testing, feasibility\\\ \ \ \ \ and marketing studies (excluding any fees or commissions).\\(3) Impact fees or one time assessments for anticipated heavy utility\\\ \ \ \ \ usage, as determined necessary by the Agency.};
% col4 doc content
\node[base, font=\fontsize{2.8}{3.3}\selectfont\bfseries] (p4t) at (962,826) {\underline{Payments For Moving and Related Expenses}};
\node[base, font=\fontsize{2.4}{2.9}\selectfont\bfseries\itshape] (p4s) at (955,835) {Actual, Reasonable and Necessary moving expenses from a Dwelling, Mobile Home, B,F or NPO, or\\for Personal Property Only are those defined in [24.301 (g)(1)thru (g)(7)] below.};
\rowA{898}{864}
\rowB{917}{903}
\node[base, font=\fontsize{2.4}{2.9}\selectfont\bfseries\itshape, align=left] (p4x) at (952,930) {Eligible expenses for a person who is required to move personal property from real property but\\is not required to move from a Dwelling, Business, Farm or NPO, include those expenses\\in 24.301 (g)(1) thru (g)(7) above, and (g)(8) thru (g)(18) as listed below.};
\ebox{900,972}{50}{50}{\eh{24.301(g)(18)}{Low Value / High Bulk}}{When the cost of moving the\\personal property is\\disproportionate to its value,\\the allowable moving cost\\payment shall not exceed\\the lesser of the amount\\received if sold or the\\replacement cost.}
\node[draw, fill=white, line width=0.8pt, minimum width=70pt, minimum height=50pt, align=left, font=\fontsize{2.2}{2.8}\selectfont] (p4b) at (968,972) {Where the P.P. must be moved:\\■ 24.301(g)(8) Bldg Permits, Fees\\■ 24.301(g)(9) Professional Services\\■ 24.301(g)(10) Relettering Signs\\■ 24.301(g)(11) Actual Direct Loss of P.P.\\■ 24.301(g)(12) Purchase of Substitute P.P.\\■ 24.301(g)(13) Searching Expenses\\■ 24.301(g)(14) Cost to sell P.P.};
% col5 doc content
\node[base, font=\fontsize{2.8}{3.3}\selectfont\bfseries] (p5t) at (1239,834) {\underline{Payments For Moving and Related Expenses}};
\node[base, font=\fontsize{2.6}{3.1}\selectfont\bfseries\itshape] (p5s) at (1232,850) {The amount of a payment for Direct Loss of an Advertising Sign,\\which is Personal Property, shall be the lesser of:};
\node[draw, fill=white, line width=0.8pt, minimum width=132pt, minimum height=36pt, align=left, font=\fontsize{2.6}{3.2}\selectfont\bfseries] (p5b) at (1232,880) {1) The depreciated reproduction cost of the sign, as determined by the\\\ \ \ \ Agency, less the proceeds from its sale; or\\[3pt]2) The estimated cost of moving the sign, but no allowance for storage.};
% ---------------- columns 1 and 2 flows
\begin{scope}[name prefix=c1-]\colflow\end{scope}
\begin{scope}[shift={(236,0)}, name prefix=c2-]\colflow\end{scope}
% ---------------- column 3 flow
\nbox[text width=114pt, align=left, font=\fA]{g1}{672,1205}{118}{34}{\textbf{The Displacement Relocation Advisor Assistance Functions:}\\■ Conduct Pre-Move Interview/Inspection\\■ Obtain Inventory / Verify Real Property\\■ Inform B,F or NPO of Eligible Items and Program Requirements\\■ Prep "Notification" to "Loss Of Tangible Personal Property"}
\nhex{g2}{672,1248}{46}{13}{Advisor Prepares\\Move Specifications}
\ndia{g3}{672,1274}{42}{26}{Move\\Specs. Ready\\for Action?}
\nbox{g4}{630,1305}{50}{20}{Use of Gathered\\Estimates from\\Displacee}
\nbox{g5}{716,1305}{62}{20}{Advisor Prepares Move\\Specifications \& Obtains\\Bids / Estimates}
\nbox{g6}{672,1332}{60}{18}{Displacee / Advisor\\Review Estimates\\and Moving Options}
\ndia{g7}{672,1362}{46}{24}{B, F or NPO\\Eligible for\\Fixed Payment?}
\nbox{g8}{612,1362}{50}{22}{Moving Costs \&\\Reestablishment\\Expenses Claim\\(Actual Costs)}
\nbox{g9}{732,1362}{50}{22}{Fixed Payment\\"In-Lieu" of\\Moving Expenses\\{}[24.305]}
\nbox{g10}{596,1394}{38}{14}{\textbf{Self Move Option}\\Actual or Scheduled}
\nbox{g11}{640,1394}{40}{12}{\textbf{Commercial Move}\\Option}
\ndia{g12}{732,1396}{44}{26}{Avg. Annual\\Net Earnings\\Determined?}
\nbox{g13}{618,1415}{50}{12}{Advisor Verifies\\Pre-Move Inventory}
\nbox{g14}{732,1422}{40}{14}{Advisor Informs\\B, F or NPO of\\Payment Amount}
\nbox{g15}{672,1434}{44}{14}{B, F or NPO Informs\\Agency of the Move}
\nbox{g16}{672,1454}{54}{14}{B, F or NPO Moves\\From Displacement Property}
\nbox{g17}{672,1474}{46}{17}{Advisor Monitors \&\\Verifies the Move \&\\Post-Move Inventory}
\ndia[fill=dgray]{g18}{600,1482}{44}{24}{Actual Cost\\or Fixed\\Payment?}
\node[draw, fill=white, line width=1pt, minimum width=165pt, minimum height=50pt] (g20) at (655,1530) {};
\node[base, font=\fontsize{2.4}{3}\selectfont, align=left, anchor=north west] (g20t) at (575,1507) {\cfx{[24.301] Reimbursement / Documentation of Actual Reasonable Moving Expenses}\\1. Invoices or receipts for all moving services and materials purchased\\2. Evidence of payment (cancelled checks, paid receipts) for each expense claimed\\3. Inventories and schedules of personal property moved\\4. Estimates or reports related to claim (certified appraisals, bids)\\5. Searching cost receipts, log of time spent searching for a replacement site\\6. Documentation of reestablishment expenses (24.304)\\7. Fixed payment: income tax returns for the two years prior to displacement\\8. Other documentation as required by the Agency};
\nbox{g21}{646,1569}{60}{16}{B, F or NPO Submits Moving\\Invoice(s) and/or Other\\Documented Moving Costs}
\nbox{g22}{718,1569}{46}{16}{B, F or NPO Submits\\Fixed Payment\\Claim Documents}
\smdoc{g23}{646,1591}{44}{16}{Advisor Assembles\\Displacee Claim \&\\Claim Documentation}
\ndia{g24}{646,1615}{46}{22}{Advisor\\Approves\\Claim?}
\ndia{g25}{714,1615}{46}{22}{Claim or\\More Data\\Needed?}
\nbox{g26}{646,1639}{44}{14}{Advisor Forwards\\Claim to Supervisor}
\nbox{g27}{714,1639}{48}{16}{Advisor Informs the\\B, F or NPO of Claim\\Status}
\nell{g28}{714,1658}{40}{10}{Document File}
\nbox{g29}{646,1659}{44}{14}{Supervisor Reviews\\\& Approves Claim}
\nbox{g30}{646,1678}{44}{14}{District Forwards\\Claim to RAM}
\nbox{g31}{646,1697}{44}{14}{RAM Forwards\\Approved Claim to\\Finance for Payment}
\ndia{g32}{683,1718}{44}{24}{Final\\Relocation\\Claim?}
\nell{g33}{697,1766}{94}{12}{\fA ■ Advisor Updates PROARS, Log and Displacee Record Form\\\fA ■ District Closes District File and Forwards Record to Audit}
\nell{g34}{697,1790}{94}{16}{\fA ■ CO-R Updates PROARS Data Record\\\fA ■ CO-R Posts File to EDMS and Sends Locality (if any)\\\fA ■ CO-R Sends File to Record Center}
\draw[ca] (g1) -- (g2); \draw[ca] (g2) -- (g3); \draw[ca] (g3.west) -| (g4.north); \draw[ca] (g3.east) -| (g5.north);
\draw[ca] (g4.south) |- (g6.west); \draw[ca] (g5.south) |- (g6.east); \draw[ca] (g6) -- (g7);
\draw[ca] (g7.west) -- (g8.east); \draw[ca] (g7.east) -- (g9.west);
\draw[ca] (g8.south) -- ++(0,6) -| (g10.north); \draw[ca] (g8.south) -- ++(0,6) -| (g11.north);
\draw[ca] (g9) -- (g12); \draw[ca] (g12) -- (g14); \draw[ca] (g10.south) |- (g13.west); \draw[ca] (g11.south) |- (g13.east);
\draw[conn] (g13.south) |- (g15.west); \draw[conn] (g14.south) |- (g15.east);
\draw[ca] (g15) -- (g16); \draw[ca] (g16) -- (g17); \draw[conn] (g17.west) -- (g18.east);
\draw[ca] (g18.south) -- (600,1505);
\draw[ca] (g20.south -| g21) -- (g21.north); \draw[ca] (g20.south -| g22) -- (g22.north);
\draw[ca] (g21) -- (g23); \draw[conn] (g22.south) -- ++(0,8) -| (g23b.north);
\draw[ca] (g23) -- (g24); \draw[ca] (g24.east) -- (g25.west); \draw[ca] (g25) -- (g27); \draw[ca] (g27) -- (g28);
\draw[ca] (g24) -- (g26); \draw[ca] (g26) -- (g29); \draw[ca] (g29) -- (g30); \draw[ca] (g30) -- (g31); \draw[ca] (g31.south) |- (g32.west);
\draw[ca] (g32.south) -- (g33.north -| g32); \draw[ca] (g33) -- (g34);
\draw[conn] (g32.east) -- (745,1718) -- (745,1615) -- (g25.east);
% ---------------- column 4 flow
\nbox[text width=124pt, align=left, font=\fA]{q1}{951,1055}{127}{23}{\textbf{The Displacement Relocation Advisor Assistance Functions:}\\■ Conduct Pre-Move Interview/Inspection\\■ Obtain Inventory / Verify Personal Property\\■ Inform Displacee of Moving Options and Requirements\\■ Prep "Notification" to "Loss Of Tangible Personal Property"}
\nhex{q2}{948,1153}{42}{18}{Advisor\\Prepares Move\\Specifications}
\nbox{q3}{948,1212}{52}{24}{Advisor Prepares and Informs\\Displacee with\\Moving cost Options}
\nbox{q4}{950,1289}{72}{22}{Displacee Informs Advisor of\\their Selection of\\Self Move or Commercial Move\\or a Combination of Moving Options}
\nbox{q5}{912,1327}{42}{14}{\textbf{Self-Move}\\Actual Cost Option}
\nbox{q6}{1004,1327}{48}{12}{\textbf{Commercial Move Option}}
\nbox{q7}{912,1356}{42}{14}{Advisor Verifies\\Pre-Move Inventory}
\nbox{q8}{1004,1356}{42}{14}{Advisor Verifies\\Pre-Move Inventory}
\nbox{q9}{912,1398}{46}{22}{Advisor \& Displacee\\Establish Dates\\of Move and Items}
\nbox{q10}{1004,1398}{46}{16}{Advisor Prepares\\Commercial Mover}
\nbox{q11}{948,1432}{38}{16}{Displacee Informs\\Agency of the Move}
\nbox{q12}{948,1454}{50}{14}{Displacee Moves\\From Displacement Property}
\nbox{q13}{948,1474}{43}{17}{Advisor Monitors \&\\Verifies the Move \&\\Post-Move Inventory}
\nbox{q14}{918,1536}{52}{16}{Displacee Submits\\Moving Invoice(s) and/or\\Other Documentation}
\smdoc{q15}{918,1558}{44}{16}{Advisor Assembles\\Displacee Claim \&\\Claim Documentation}
\ndia{q16}{918,1583}{44}{22}{Advisor\\Approves\\Claim?}
\ndia{q17}{985,1583}{46}{22}{Claim or\\More Data\\Needed?}
\nbox{q18}{918,1607}{44}{14}{Advisor Forwards\\Claim to Supervisor}
\nbox{q19}{985,1606}{48}{16}{Advisor Notifies the\\Displacee of Claim\\Status}
\nell{q20}{985,1627}{44}{14}{Document File \&\\Supporting Records}
\nbox{q21}{918,1627}{44}{14}{Supervisor Reviews\\\& Approves Claim}
\nbox{q22}{918,1647}{44}{14}{District Forwards\\Claim to RAM}
\nbox{q23}{918,1667}{44}{14}{RAM Forwards\\Approved Claim to\\Finance for Payment}
\ndia{q24}{918,1692}{44}{22}{All\\Moving Costs\\Claimed?}
\ndia{q25}{918,1718}{44}{22}{Final\\Relocation\\Claim?}
\nell{q26}{942,1752}{100}{10}{\fA ■ Advisor Updates PROARS, Log and Displacee Record Form\\\fA ■ District Closes District File and Forwards Record Form to Audit}
\nell{q27}{942,1770}{88}{16}{\fA ■ CO-R Updates PROARS Data Record\\\fA ■ CO-R Posts File to EDMS and Sends Locality (if any)\\\fA ■ CO-R Sends File to Record Center}
\draw[ca] (q1) -- (q2); \draw[ca] (q2) -- (q3); \draw[ca] (q3) -- (q4);
\draw[conn] (q4.south) -- (948,1312); \draw[conn] (912,1312) -- (1004,1312); \draw[ca] (912,1312) -- (q5.north); \draw[ca] (1004,1312) -- (q6.north);
\draw[ca] (q5) -- (q7); \draw[ca] (q6) -- (q8); \draw[ca] (q7) -- (q9); \draw[ca] (q8) -- (q10);
\draw[conn] (q9.south) |- (948,1416); \draw[conn] (q10.south) |- (948,1416); \draw[ca] (948,1416) -- (q11.north);
\draw[ca] (q11) -- (q12); \draw[ca] (q12) -- (q13); \draw[ca] (q13.south) |- (q14.east);
\draw[ca] (q14) -- (q15); \draw[ca] (q15) -- (q16); \draw[ca] (q16.east) -- (q17.west); \draw[ca] (q17) -- (q19); \draw[ca] (q19) -- (q20);
\draw[ca] (q16) -- (q18); \draw[ca] (q18) -- (q21); \draw[ca] (q21) -- (q22); \draw[ca] (q22) -- (q23); \draw[ca] (q23) -- (q24); \draw[ca] (q24) -- (q25);
\draw[ca] (q25.south) -- (q26.north -| q25); \draw[ca] (q26) -- (q27);
\draw[conn] (q24.east) -- (1015,1692) -- (1015,1583) -- (q17.east);
% ---------------- column 5 flow
\nhex{m1}{1225,1167}{46}{24}{Advisor\\Establishes\\Specifications of\\the Sign Move}
\ndia{m2}{1205,1216}{38}{30}{Sign Owner\\Preferred to\\Move Sign?}
\nbox{m3}{1170,1254}{42}{22}{Obtain at least 2\\Sign Move Estimates\\from Sign\\Contractors}
\nbox{m4}{1280,1254}{50}{24}{Prepare a Moving Cost\\Estimate for In-House\\or other than Sign\\Contractor}
\nbox{m5}{1225,1285}{46}{18}{Advisor Determines\\"Lowest"\\Replacement Value\\or Moving Cost}
\ndia{m6}{1170,1296}{36}{20}{Estimates\\Approved?}
\ndia{m7}{1280,1296}{36}{20}{Estimates\\Approved?}
\nbox{m8}{1225,1320}{50}{20}{Advisor Prepares and Informs\\Sign Owner of\\Eligible Payment Amount}
\nbox{m9}{1225,1432}{42}{14}{Sign Owner Informs\\Agency of the Move}
\nbox{m10}{1225,1454}{52}{14}{Sign Owner Moves Sign\\From Displacement Site}
\nbox{m11}{1225,1474}{42}{12}{Advisor Verifies\\Actual Move of the Sign}
\nbox{n1}{1200,1536}{54}{16}{Sign Owner Submits Itemized\\Invoice(s) or Documents\\of Actual Moving Costs}
\smdoc{n2}{1200,1558}{44}{16}{Advisor Assembles\\Claim \&\\Claim Documentation}
\ndia{n3}{1200,1583}{44}{22}{Advisor\\Approves\\Claim?}
\ndia{n4}{1262,1583}{46}{22}{Claim or\\More Data\\Needed?}
\nbox{n5}{1200,1607}{44}{14}{Advisor Forwards\\Claim to Supervisor}
\nbox{n6}{1262,1606}{48}{16}{Advisor Notifies the\\Sign Owner of Claim\\Status}
\nell{n7}{1262,1627}{44}{14}{Document File \&\\Supporting Records}
\nbox{n8}{1200,1627}{44}{14}{Supervisor Reviews\\\& Approves Claim}
\nbox{n9}{1200,1647}{44}{14}{District Forwards\\Claim to RAM}
\nbox{n10}{1200,1667}{44}{14}{RAM Forwards\\Approved Claim to\\Finance for Payment}
\ndia{n11}{1200,1694}{44}{22}{Final\\Relocation\\Claim?}
\nell{n12}{1223,1750}{104}{10}{\fA ■ Advisor Updates PROARS, Log and Displacee Record Form\\\fA ■ District Closes District File and Forwards Record Form to Audit}
\nell{n13}{1223,1770}{92}{16}{\fA ■ CO-R Updates PROARS Data Record\\\fA ■ CO-R Posts File to EDMS and Sends Locality (if any)\\\fA ■ CO-R Sends File to Record Center}
\draw[ca] (m1.south) |- (m2.north -| m1) -- (m2.north);
\draw[ca] (m2.west) -| (m3.north); \draw[ca] (m2.east) -| (m4.north);
\draw[ca] (m3) -- (m6); \draw[ca] (m4) -- (m7); \draw[ca] (m6.east) -- (m5.west); \draw[ca] (m7.west) -- (m5.east);
\draw[ca] (m5) -- (m8); \draw[ca] (m8) -- (m9); \draw[ca] (m9) -- (m10); \draw[ca] (m10) -- (m11);
\draw[ca] (m11.south) |- (n1.east);
\draw[ca] (n1) -- (n2); \draw[ca] (n2) -- (n3); \draw[ca] (n3.east) -- (n4.west); \draw[ca] (n4) -- (n6); \draw[ca] (n6) -- (n7);
\draw[ca] (n3) -- (n5); \draw[ca] (n5) -- (n8); \draw[ca] (n8) -- (n9); \draw[ca] (n9) -- (n10); \draw[ca] (n10) -- (n11);
\draw[ca] (n11.south) -- (n12.north -| n11); \draw[ca] (n12) -- (n13);
% ---------------- column spines (behind documents)
\begin{pgfonlayer}{bgl}
\draw[conn] (hd1.south) -- (c1-f1.north);
\draw[conn] (hd2.south) -- (c2-f1.north);
\draw[conn] (hd3.south) -- (g1.north);
\draw[conn] (hd4.south) -- (q1.north);
\draw[conn] (hd5.south) -- (m1.north);
\end{pgfonlayer}
\end{tikzpicture}
\end{document}
